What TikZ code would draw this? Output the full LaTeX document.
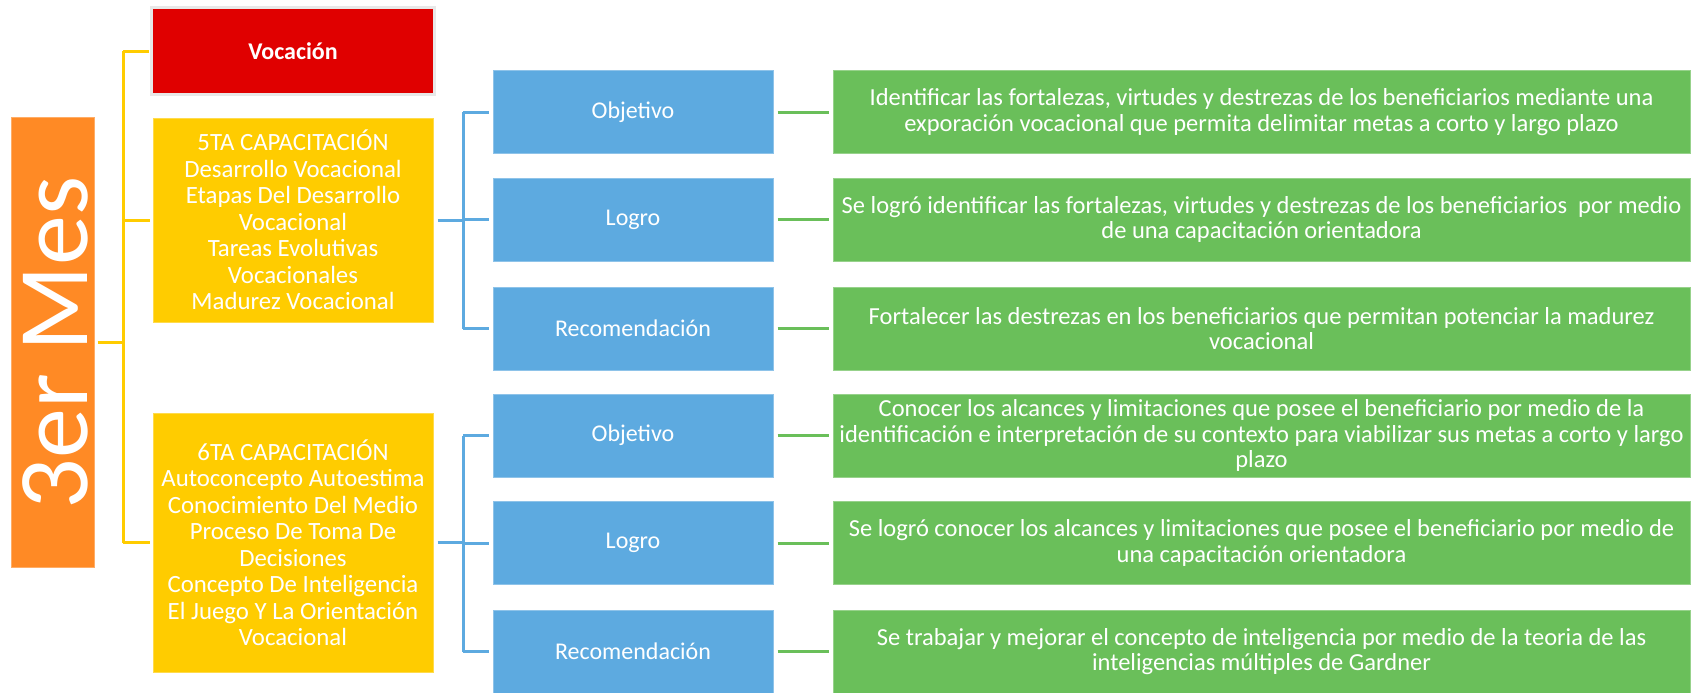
\documentclass[tikz,border=0pt]{standalone}
\usepackage{fontspec}
\setmainfont{Carlito}
\definecolor{orangeC}{HTML}{FF8A25}
\definecolor{redC}{HTML}{E00000}
\definecolor{yellowC}{HTML}{FFCC00}
\definecolor{blueC}{HTML}{5DAAE0}
\definecolor{greenC}{HTML}{6ABF5A}
\definecolor{greyC}{HTML}{E8E8E8}
\begin{document}
\begin{tikzpicture}[x=0.5pt,y=-0.5pt,
  box/.style={inner sep=0pt, align=center, text=white, line width=0.5pt},
  orangebox/.style={box, fill=orangeC, draw=orangeC!70!white, minimum width=41.5pt, minimum height=225pt},
  redbox/.style={box, fill=redC, draw=greyC, line width=1.5pt, minimum width=141.5pt, minimum height=43.5pt,
    font=\fontsize{12}{13}\selectfont\bfseries},
  yellowbox/.style={box, fill=yellowC, draw=yellowC!70!white, minimum width=140pt,
    font=\fontsize{12.4}{13.25}\selectfont},
  bluebox/.style={box, fill=blueC, draw=blueC!70!white, minimum width=140pt, minimum height=41.5pt,
    font=\fontsize{12}{13.25}\selectfont},
  greenbox/.style={box, fill=greenC, draw=greenC!70!white, minimum width=428.5pt, minimum height=41.5pt,
    font=\fontsize{12.25}{12.6}\selectfont},
  yline/.style={draw=yellowC, line width=1.5pt},
  bline/.style={draw=blueC, line width=1.5pt},
  gline/.style={draw=greenC, line width=1.5pt, shorten <=2pt, shorten >=2pt}
]
\fill[white] (0,0) rectangle (1695,692);
\useasboundingbox (0,0) rectangle (1695,692);

% left column
\node[orangebox] (mes) at (52.5,342) {};
\node[text=white, rotate=90, font=\fontsize{50}{52}\selectfont, inner sep=0pt] (mestext) at (55,343) {3er Mes};
\node[redbox] (voc) at (293,51) {Vocación};
\node[yellowbox, minimum height=102pt] (cap5) at (293,220) {5TA CAPACITACIÓN\\Desarrollo Vocacional\\Etapas Del Desarrollo\\Vocacional\\Tareas Evolutivas\\Vocacionales\\Madurez Vocacional};
\node[yellowbox, minimum height=129.5pt] (cap6) at (293,542.5) {6TA CAPACITACIÓN\\Autoconcepto Autoestima\\Conocimiento Del Medio\\Proceso De Toma De\\Decisiones\\Concepto De Inteligencia\\El Juego Y La Orientación\\Vocacional};

% blue column
\node[bluebox] (obj1) at (633,112) {Objetivo};
\node[bluebox] (log1) at (633,219.5) {Logro};
\node[bluebox] (rec1) at (633,328.5) {Recomendación};
\node[bluebox] (obj2) at (633,435.5) {Objetivo};
\node[bluebox] (log2) at (633,543) {Logro};
\node[bluebox] (rec2) at (633,651.5) {Recomendación};

% green column
\node[greenbox] (g1) at (1261.5,112) {Identificar las fortalezas, virtudes y destrezas de los beneficiarios mediante una\\exporación vocacional que permita delimitar metas a corto y largo plazo};
\node[greenbox] (g2) at (1261.5,219.5) {Se logró identificar las fortalezas, virtudes y destrezas de los beneficiarios\ \ por medio\\de una capacitación orientadora};
\node[greenbox] (g3) at (1261.5,328.5) {Fortalecer las destrezas en los beneficiarios que permitan potenciar la madurez\\vocacional};
\node[greenbox] (g4) at (1261.5,435.5) {Conocer los alcances y limitaciones que posee el beneficiario por medio de la\\identificación e interpretación de su contexto para viabilizar sus metas a corto y largo\\plazo};
\node[greenbox] (g5) at (1261.5,543) {Se logró conocer los alcances y limitaciones que posee el beneficiario por medio de\\una capacitación orientadora};
\node[greenbox] (g6) at (1261.5,651.5) {Se trabajar y mejorar el concepto de inteligencia por medio de la teoria de las\\inteligencias múltiples de Gardner};

% yellow bracket
\coordinate (yb) at (123,0);
\draw[yline, shorten <=1.5pt] (mes.east) -- (mes.east -| yb);
\draw[yline] (yb |- voc.west) -- (yb |- cap6.west);
\draw[yline, shorten >=0.75pt] (yb |- voc.west) -- (voc.west);
\draw[yline, shorten >=1.5pt] (yb |- cap5.west) -- (cap5.west);
\draw[yline, shorten >=1.5pt] (yb |- cap6.west) -- (cap6.west);

% blue brackets
\coordinate (bb) at (463,0);
\draw[bline, shorten <=2pt] (cap5.east) -- (cap5.east -| bb);
\draw[bline] (bb |- obj1.west) -- (bb |- rec1.west);
\draw[bline, shorten >=2pt] (bb |- obj1.west) -- (obj1.west);
\draw[bline, shorten >=2pt] (bb |- log1.west) -- (log1.west);
\draw[bline, shorten >=2pt] (bb |- rec1.west) -- (rec1.west);
\draw[bline, shorten <=2pt] (cap6.east) -- (cap6.east -| bb);
\draw[bline] (bb |- obj2.west) -- (bb |- rec2.west);
\draw[bline, shorten >=2pt] (bb |- obj2.west) -- (obj2.west);
\draw[bline, shorten >=2pt] (bb |- log2.west) -- (log2.west);
\draw[bline, shorten >=2pt] (bb |- rec2.west) -- (rec2.west);

% green connectors
\draw[gline] (obj1.east) -- (g1.west);
\draw[gline] (log1.east) -- (g2.west);
\draw[gline] (rec1.east) -- (g3.west);
\draw[gline] (obj2.east) -- (g4.west);
\draw[gline] (log2.east) -- (g5.west);
\draw[gline] (rec2.east) -- (g6.west);
\end{tikzpicture}
\end{document}
